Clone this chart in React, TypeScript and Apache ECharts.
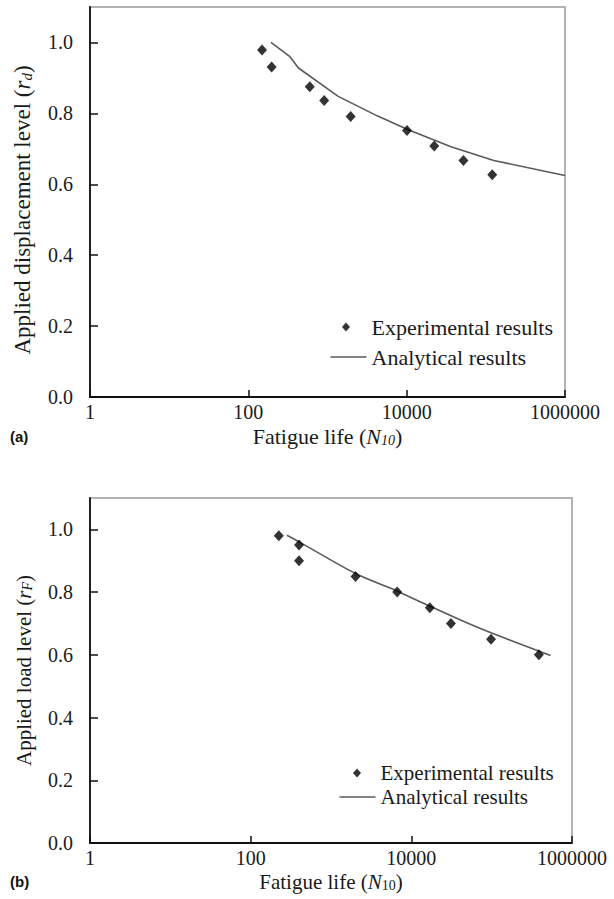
import React, { useEffect, useRef } from "react";
import * as echarts from "echarts";

// ---- Data ----
// (a) displacement-controlled tests
const expA_N = [149, 197, 597, 908, 1960, 10100, 22300, 52100, 120500];
const expA_r = [0.979, 0.931, 0.875, 0.836, 0.791, 0.752, 0.708, 0.667, 0.627];
const anaA_N = [193, 332, 430, 1365, 4234, 10470, 36300, 126000, 1000000];
const anaA_r = [1.0, 0.961, 0.928, 0.848, 0.793, 0.754, 0.706, 0.667, 0.625];

// (b) load-controlled tests
const expB_N = [224, 400, 400, 2020, 6670, 17000, 31100, 98200, 387000];
const expB_r = [0.98, 0.95, 0.9, 0.85, 0.8, 0.75, 0.7, 0.65, 0.6];
const anaB_N = [283, 396, 2020, 6670, 17000, 49100, 98200, 541000];
const anaB_r = [0.981, 0.961, 0.859, 0.803, 0.755, 0.702, 0.67, 0.598];

const xTickLabels = ["1", "100", "10000", "1000000"];
const yMin = 0;
const yMax = 1.1;
const yStep = 0.2;

const SERIF = "Liberation Serif";
const INK = "#1a1a1a";

const zip = (a: number[], b: number[]) => a.map((v, i) => [v, b[i]]);

function richStyles(fs: number, subItalic: boolean) {
  return {
    t: { fontFamily: SERIF, fontSize: fs, lineHeight: fs, color: INK },
    i: { fontFamily: SERIF, fontSize: fs, lineHeight: fs, color: INK, fontStyle: "italic" },
    s: {
      fontFamily: SERIF,
      fontSize: Math.round(fs * 0.65),
      lineHeight: 8,
      color: INK,
      fontStyle: subItalic ? "italic" : "normal",
      verticalAlign: "bottom",
    },
  };
}

function makeX(gridIndex: number, nameRich: string, subItalic: boolean, fs: number) {
  return {
    type: "log",
    logBase: 100,
    min: 1,
    max: 1000000,
    splitNumber: 3,
    gridIndex,
    axisLine: { show: true, lineStyle: { color: "#111", width: 1.8 } },
    axisTick: { show: true, inside: true, length: 7, lineStyle: { color: "#111", width: 1.5 } },
    axisLabel: {
      fontFamily: SERIF,
      fontSize: 20,
      color: INK,
      margin: 5,
      formatter: (v: number) => {
        const e = Math.round(Math.log10(v));
        const s = String(Math.round(Math.pow(10, e)));
        return xTickLabels.indexOf(s) >= 0 ? s : "";
      },
    },
    splitLine: { show: false },
    name: nameRich,
    nameLocation: "middle",
    nameGap: 28,
    nameTextStyle: { fontFamily: SERIF, fontSize: fs, color: INK, rich: richStyles(fs, subItalic) },
  };
}

function makeY(gridIndex: number, nameRich: string, fs: number, gap: number, shiftDown: number) {
  return {
    type: "value",
    gridIndex,
    min: yMin,
    max: yMax,
    interval: yStep,
    axisLine: { show: true, lineStyle: { color: "#111", width: 1.8 } },
    axisTick: { show: true, inside: true, length: 8, lineStyle: { color: "#111", width: 1.5 } },
    axisLabel: {
      fontFamily: SERIF,
      fontSize: 20,
      color: INK,
      margin: 17,
      showMaxLabel: false,
      formatter: (v: number) => (v > 1.05 ? "" : v.toFixed(1)),
    },
    splitLine: { show: false },
    name: nameRich,
    nameLocation: "middle",
    nameRotate: 90,
    nameGap: gap,
    nameTextStyle: {
      fontFamily: SERIF,
      fontSize: fs,
      color: INK,
      padding: [0, shiftDown * 2, 0, 0],
      rich: richStyles(fs, true),
    },
  };
}

function legendPair(diamondCx: number, textX: number, row1Cy: number, rowStep: number, fs: number) {
  const dSize = 8;
  const textStyle = { fontFamily: SERIF, fontSize: fs, lineHeight: fs, color: INK };
  const dLeft = diamondCx - dSize / 2;
  const lineW = 36;
  const lineLeft = textX - 5 - lineW;
  return [
    {
      orient: "vertical",
      left: dLeft,
      top: row1Cy - fs / 2,
      itemWidth: dSize,
      itemHeight: dSize + 1,
      padding: 0,
      textStyle: { ...textStyle, padding: [0, 0, 0, textX - (dLeft + dSize + 5)] },
      data: [{ name: "Experimental results", icon: "diamond" }],
    },
    {
      orient: "vertical",
      left: lineLeft,
      top: row1Cy + rowStep - fs / 2,
      itemWidth: lineW,
      itemHeight: 1.6,
      padding: 0,
      textStyle,
      data: [{ name: "Analytical results", icon: "rect" }],
    },
  ];
}

export default function App() {
  const ref = useRef<HTMLDivElement>(null);

  useEffect(() => {
    if (!ref.current) return;
    const chart = echarts.init(ref.current, undefined, { renderer: "svg" });

    chart.setOption({
      animation: false,
      backgroundColor: "#ffffff",
      textStyle: { fontFamily: SERIF },
      grid: [
        { left: 90, top: 7, width: 475, height: 390, show: true, borderColor: "#9a9a9a", borderWidth: 1.5, containLabel: false },
        { left: 90, top: 498, width: 482, height: 345, show: true, borderColor: "#9a9a9a", borderWidth: 1.5, containLabel: false },
      ],
      xAxis: [
        makeX(0, "{t|Fatigue life (}{i|N}{s|10}{t|)}", true, 22),
        makeX(1, "{t|Fatigue life (}{i|N}{s|10}{t|)}", false, 21),
      ],
      yAxis: [
        makeY(0, "{t|Applied displacement level (}{i|r}{s|d}{t|)}", 23, 56, 8),
        makeY(1, "{t|Applied load level (}{i|r}{s|F}{t|)}", 21, 56, 0),
      ],
      legend: [...legendPair(346, 371.5, 327, 30, 22), ...legendPair(357, 380.5, 773, 24, 21)],
      graphic: [
        {
          type: "text",
          left: 10,
          top: 429,
          style: { text: "(a)", font: "bold 15px 'Liberation Sans', Arial, sans-serif", fill: "#111" },
        },
        {
          type: "text",
          left: 10,
          top: 874,
          style: { text: "(b)", font: "bold 15px 'Liberation Sans', Arial, sans-serif", fill: "#111" },
        },
      ],
      series: [
        {
          name: "Analytical results",
          type: "line",
          xAxisIndex: 0,
          yAxisIndex: 0,
          data: zip(anaA_N, anaA_r),
          showSymbol: false,
          symbol: "none",
          lineStyle: { color: "#5a5a5a", width: 1.6 },
          itemStyle: { color: "#5a5a5a" },
          z: 2,
        },
        {
          name: "Experimental results",
          type: "scatter",
          xAxisIndex: 0,
          yAxisIndex: 0,
          data: zip(expA_N, expA_r),
          symbol: "diamond",
          symbolSize: [10, 11],
          itemStyle: { color: "#000" },
          z: 3,
        },
        {
          name: "Analytical results",
          type: "line",
          xAxisIndex: 1,
          yAxisIndex: 1,
          data: zip(anaB_N, anaB_r),
          showSymbol: false,
          symbol: "none",
          smooth: 0.3,
          lineStyle: { color: "#5a5a5a", width: 1.6 },
          itemStyle: { color: "#5a5a5a" },
          z: 2,
        },
        {
          name: "Experimental results",
          type: "scatter",
          xAxisIndex: 1,
          yAxisIndex: 1,
          data: zip(expB_N, expB_r),
          symbol: "diamond",
          symbolSize: [10, 11],
          itemStyle: { color: "#000" },
          z: 3,
        },
      ],
    });

    return () => chart.dispose();
  }, []);

  return (
    <div
      ref={ref}
      style={{ position: "fixed", left: 0, top: 0, width: 614, height: 899, background: "#fff" }}
    />
  );
}
